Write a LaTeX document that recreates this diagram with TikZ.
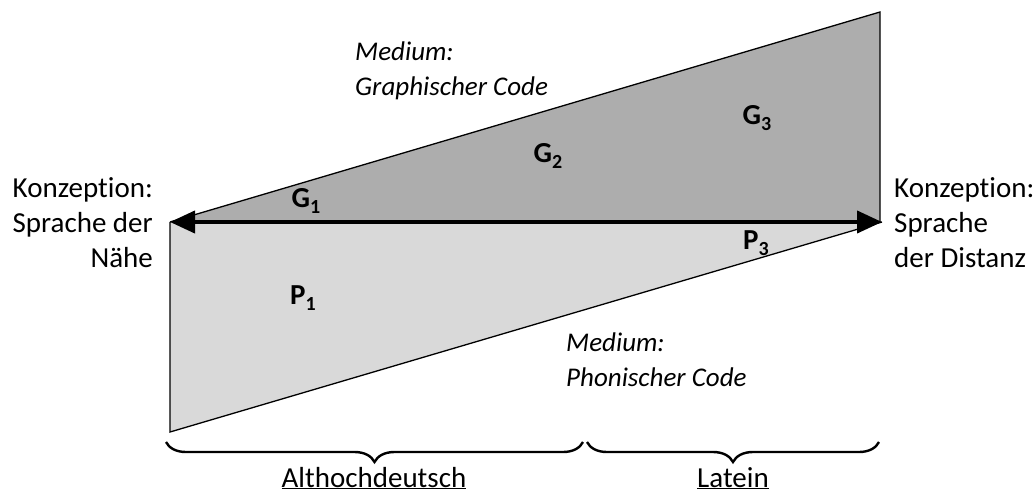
\documentclass[tikz,border=0pt]{standalone}
\usepackage{fontspec}
\setmainfont{Carlito}[Ligatures=NoCommon]
\usetikzlibrary{arrows.meta,decorations.pathreplacing}
\definecolor{darkfill}{HTML}{ADADAD}
\definecolor{lightfill}{HTML}{D9D9D9}
\newcommand{\regsub}[1]{\raisebox{-0.22em}{\fontsize{20}{20}\selectfont #1}}
\begin{document}
\begin{tikzpicture}[x=1pt,y=-1pt,
  txt/.style={inner sep=0pt,font=\fontsize{29}{35}\selectfont},
  itxt/.style={inner sep=0pt,font=\fontsize{27}{35}\selectfont\itshape},
  lab/.style={inner sep=0pt,font=\fontsize{29}{35}\selectfont\bfseries},
  edge/.style={draw=black,line width=1.3pt,line join=miter},
  bracestyle/.style={decorate,decoration={brace,mirror,amplitude=20pt},line width=2.4pt},
  mainarrow/.style={line width=4pt,{Triangle[length=25pt,width=22pt]}-{Triangle[length=25pt,width=22pt]}}]
\useasboundingbox (0,0) rectangle (1036,493);
\coordinate (L) at (170,222);
\coordinate (R) at (882,222);
\coordinate (TR) at (880,12);
\coordinate (BR) at (880,222);
\coordinate (BL) at (170,432);
% regions
\fill[darkfill] (L) -- (TR) -- (BR) -- cycle;
\fill[lightfill] (L) -- (BR) -- (BL) -- cycle;
\draw[edge] (L) -- (TR) -- (BR);
\draw[edge] (L) -- (BL) -- (R);
\draw[mainarrow] (L) -- (R);
% region labels
\node[lab] (g1) at (306,201) {G\regsub{1}};
\node[lab] (g2) at (548,156) {G\regsub{2}};
\node[lab] (g3) at (757,118) {G\regsub{3}};
\node[lab] (p1) at (303,298) {P\regsub{1}};
\node[lab] (p3) at (756,243) {P\regsub{3}};
% left text
\node[txt,anchor=base east] (kl1) at (153,197) {Konzeption:};
\node[txt,anchor=base east] (kl2) at (153,232) {Sprache der};
\node[txt,anchor=base east] (kl3) at (153,267) {Nähe};
% right text
\node[txt,anchor=base west] (kr1) at (894,197) {Konzeption:};
\node[txt,anchor=base west] (kr2) at (894,232) {Sprache};
\node[txt,anchor=base west] (kr3) at (894,267) {der Distanz};
% medium texts
\node[itxt,anchor=base west] (mg1) at (355,60) {Medium:};
\node[itxt,anchor=base west] (mg2) at (355,95) {Graphischer Code};
\node[itxt,anchor=base west] (mp1) at (566,351) {Medium:};
\node[itxt,anchor=base west] (mp2) at (566,386) {Phonischer Code};
% braces
\coordinate (b1s) at (166,442);
\coordinate (b1e) at (583,442);
\coordinate (b2s) at (587,442);
\coordinate (b2e) at (879,442);
\draw[bracestyle] (b1s) -- (b1e);
\draw[bracestyle] (b2s) -- (b2e);
\node[txt,anchor=base] (alt) at (374,487) {\underline{Althochdeutsch}};
\node[txt,anchor=base] (lat) at (733,487) {\underline{Latein}};
\end{tikzpicture}
\end{document}
